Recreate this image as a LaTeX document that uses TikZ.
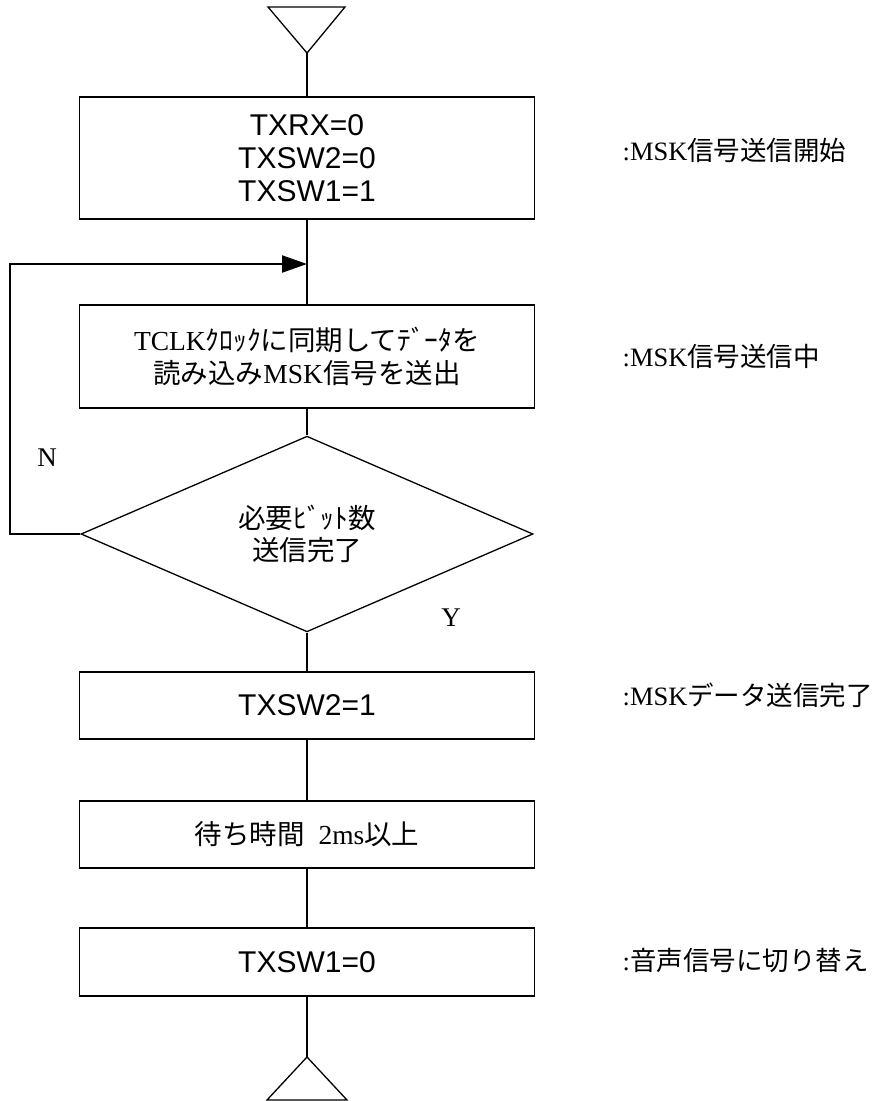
\documentclass[tikz,border=0pt]{standalone}
\usepackage{fontspec}
\setmainfont{Liberation Serif}
\newfontfamily\jp{Noto Sans CJK JP}
\newfontfamily\arial{Liberation Sans}
\usetikzlibrary{shapes.geometric,arrows.meta}
\begin{document}
\begin{tikzpicture}[x=1pt,y=-1pt,
  line width=1.3pt,
  procbox/.style={draw, minimum width=455pt, inner sep=0pt, align=center},
  sanstext/.style={font=\arial\fontsize{30}{33}\selectfont},
  jptext/.style={font=\fontsize{27.5}{32.5}\selectfont},
  note/.style={anchor=west, font=\fontsize{26.5}{30}\selectfont, inner sep=0pt},
  yn/.style={font=\fontsize{27}{30}\selectfont, inner sep=0pt},
  link/.style={draw, line width=1.3pt},
  looparrow/.style={draw, line width=2.2pt, -{Triangle[length=25pt,width=17pt]}},
]
\useasboundingbox (0,0) rectangle (878,1101);

% top terminal
\coordinate (ta) at (268,7);
\coordinate (tb) at (345,7);
\coordinate (tt) at (307,53);
\draw (ta) -- (tb) -- (tt) -- cycle;

\node[procbox, sanstext, minimum height=122pt] (b1) at (307,158) {TXRX=0\\TXSW2=0\\TXSW1=1};
\node[procbox, jptext, minimum height=103pt] (b2) at (307,356.5) {TCLK{\jp ｸﾛｯｸに同期してﾃﾞｰﾀを}\\{\jp 読み込み}MSK{\jp 信号を送出}};
\node[draw, diamond, minimum width=452pt, minimum height=154pt, inner sep=0pt, align=center, jptext] (d) at (307,534) {{\jp 必要ﾋﾞｯﾄ数}\\{\jp 送信完了}};
\node[procbox, sanstext, minimum height=67pt] (b3) at (307,705.5) {TXSW2=1};
\node[procbox, jptext, minimum height=67pt] (b4) at (307,834.5) {{\jp 待ち時間}\hspace{14pt}2ms{\jp 以上}};
\node[procbox, sanstext, minimum height=68pt] (b5) at (307,962) {TXSW1=0};

% bottom terminal
\coordinate (bt) at (307,1057);
\coordinate (bl) at (267,1100);
\coordinate (br) at (347,1100);
\draw (bt) -- (br) -- (bl) -- cycle;

% connectors
\draw[link] (tt) -- (b1);
\draw[link] (b1) -- (b2);
\draw[link] (b2) -- (d);
\draw[link] (d) -- (b3);
\draw[link] (b3) -- (b4);
\draw[link] (b4) -- (b5);
\draw[link] (b5) -- (bt);

% loop back
\coordinate (j) at (307,264);
\coordinate (lc1) at (10,534);
\coordinate (lc2) at (10,264);
\draw[link, line width=1.6pt] (d.west) -- (lc1) -- (lc2);
\draw[looparrow] ([xshift=-0.8pt]lc2) -- (j);

\node[yn] (nN) at (47,458) {N};
\node[yn] (nY) at (451,618) {Y};

% notes
\node[note] (l1) at (622,150) {:MSK{\jp 信号送信開始}};
\node[note] (l2) at (622,356) {:MSK{\jp 信号送信中}};
\node[note] (l3) at (622,695) {:MSK{\jp データ送信完了}};
\node[note] (l4) at (622,960) {:{\jp 音声信号に切り替え}};
\end{tikzpicture}
\end{document}
